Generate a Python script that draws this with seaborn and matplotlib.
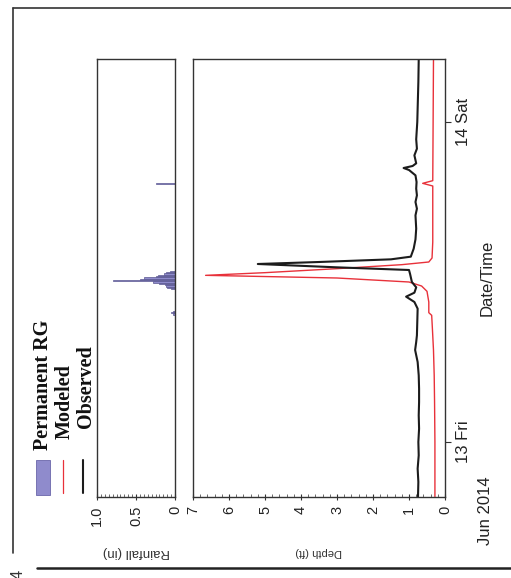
import numpy as np
import pandas as pd
import matplotlib
matplotlib.use("Agg")
import matplotlib.pyplot as plt
import seaborn as sns
from matplotlib.patches import Rectangle
from matplotlib.lines import Line2D

# ---------------- data (hours after 13 Jun 2014 00:00) ----------------
obs_hours = [-4.1, -3.0, -2.0, -1.0, 0.0, 1.0, 2.0, 3.0, 4.0, 5.0, 6.0, 6.9, 7.5, 8.0, 9.0,
             10.0, 10.5, 10.9, 11.2, 11.6, 12.0, 12.6, 12.9, 13.1, 13.35, 13.5, 13.7, 13.9,
             14.5, 15.2, 16.0, 17.0, 17.5, 18.0, 18.5, 19.0, 19.5, 20.0, 20.4, 20.55, 20.7,
             20.9, 21.5, 22.0, 22.7, 24.0, 25.0, 26.0, 27.0, 28.7]
obs_depth = [0.75, 0.74, 0.76, 0.73, 0.74, 0.72, 0.73, 0.72, 0.72, 0.73, 0.76, 0.83, 0.80, 0.78, 0.77,
             0.76, 0.85, 1.08, 0.85, 0.80, 0.92, 0.97, 1.00, 3.00, 5.20, 3.50, 1.50, 0.95,
             0.87, 0.82, 0.80, 0.82, 0.78, 0.82, 0.78, 0.80, 0.79, 0.82, 1.00, 1.15, 0.90,
             0.80, 0.85, 0.78, 0.80, 0.77, 0.76, 0.75, 0.74, 0.73]

mod_hours = [-4.1, 0.0, 3.0, 5.0, 6.9, 8.5, 9.5, 9.7, 10.5, 11.3, 11.7, 12.0, 12.3, 12.5,
             12.7, 13.0, 13.3, 13.5, 13.8, 15.0, 19.2, 19.4, 19.6, 24.0, 28.7]
mod_depth = [0.28, 0.28, 0.29, 0.30, 0.32, 0.35, 0.37, 0.45, 0.45, 0.50, 0.65, 1.00, 3.00, 6.65,
             5.00, 3.00, 1.20, 0.45, 0.36, 0.34, 0.34, 0.62, 0.34, 0.33, 0.32]

rain_hours = [9.6, 9.7, 9.8, 11.5, 11.6, 11.7, 11.8, 11.9, 12.0, 12.1, 12.2, 12.3, 12.4,
              12.5, 12.6, 12.7, 12.8, 19.4]
rain_in = [0.02, 0.05, 0.02, 0.05, 0.10, 0.12, 0.13, 0.20, 0.28, 0.80, 0.45, 0.40, 0.25,
           0.22, 0.14, 0.12, 0.06, 0.24]

time_ticks = [0, 24]
time_labels = ["13 Fri", "14 Sat"]
depth_ticks = [0, 1, 2, 3, 4, 5, 6, 7]
rain_ticks = [0, 0.5, 1.0]
rain_tick_labels = ["0", "0.5", "1.0"]
legend_labels = ["Permanent RG", "Modeled", "Observed"]

# ---------------- style ----------------
sns.set_style("white")
plt.rcParams["font.family"] = ["Liberation Sans", "DejaVu Sans"]

W, H = 511, 578
fig = plt.figure(figsize=(W / 100, H / 100), dpi=100)
fig.patch.set_facecolor("white")

def fx(x):
    return x / W

def fy(y):
    return 1 - y / H

top, bot = 59, 497
ax_r = fig.add_axes([fx(97), fy(bot), (175 - 97) / W, (bot - top) / H])
ax_d = fig.add_axes([fx(193), fy(bot), (445 - 193) / W, (bot - top) / H], sharey=ax_r)

RAIN_FACE = "#8f8bcc"
RAIN_EDGE = "#5a5690"
RED = "#e8313a"
BLACK = "#1c1c1c"

# rainfall (horizontal bars, via seaborn histplot with weights)
sns.histplot(y=rain_hours, weights=rain_in, binwidth=0.1,
             binrange=(min(rain_hours) - 0.05, max(rain_hours) + 0.05),
             ax=ax_r, color=RAIN_FACE, edgecolor=RAIN_EDGE, linewidth=0.5, alpha=1.0)

# depth lines
sns.lineplot(x=mod_depth, y=mod_hours, sort=False, estimator=None, ax=ax_d,
             color=RED, linewidth=1.0)
sns.lineplot(x=obs_depth, y=obs_hours, sort=False, estimator=None, ax=ax_d,
             color=BLACK, linewidth=1.5)

for ax in (ax_r, ax_d):
    for s in ax.spines.values():
        s.set_color("#333333")
        s.set_linewidth(1.0)
    ax.set_xlabel("")
    ax.set_ylabel("")
    ax.set_facecolor("white")

ax_d.set_xlim(7, 0)
ax_r.set_xlim(1.0, 0)
ax_d.set_ylim(-4.125, 28.725)

ax_d.set_xticks(depth_ticks)
ax_d.set_xticklabels([str(v) for v in depth_ticks], rotation=90, fontsize=10.5)
ax_d.set_xticks(np.arange(0, 7.01, 0.2), minor=True)
ax_d.tick_params(axis="x", which="major", bottom=True, direction="inout", length=5,
                 width=0.8, pad=4, colors="#333333")
ax_d.tick_params(axis="x", which="minor", bottom=True, direction="in", length=2,
                 width=0.6, colors="#555555")

ax_d.yaxis.tick_right()
ax_d.set_yticks(time_ticks)
ax_d.set_yticklabels(time_labels, rotation=90, va="center", fontsize=12)
ax_d.tick_params(axis="y", right=True, left=False, direction="out", length=4, width=0.8,
                 pad=4, colors="#333333")

ax_r.set_xticks(rain_ticks)
ax_r.set_xticklabels(rain_tick_labels, rotation=90, fontsize=10.5)
ax_r.set_xticks(np.arange(0, 1.01, 0.05), minor=True)
ax_r.tick_params(axis="x", which="major", bottom=True, direction="inout", length=5,
                 width=0.8, pad=4, colors="#333333")
ax_r.tick_params(axis="x", which="minor", bottom=True, direction="in", length=2,
                 width=0.6, colors="#555555")
ax_r.tick_params(axis="y", left=False, labelleft=False, right=False, labelright=False)
for lab in ax_d.get_xticklabels() + ax_r.get_xticklabels() + ax_d.get_yticklabels():
    lab.set_color("#222222")

# axis titles (rotated like the reference)
fig.text(fx(136), fy(552), "Rainfall (in)", rotation=180, ha="center", va="center",
         fontsize=9.5, color="#333333")
fig.text(fx(319), fy(552), "Depth (ft)", rotation=180, ha="center", va="center",
         fontsize=8, color="#333333")
fig.text(fx(487), fy(278), "Date/Time", rotation=90, ha="center", va="center",
         fontsize=12, color="#222222")
fig.text(fx(485), fy(545), "Jun 2014", rotation=90, ha="center", va="bottom",
         fontsize=12, color="#222222")

# legend (rotated)
serif = ["Liberation Serif", "DejaVu Serif"]
fig.add_artist(Rectangle((fx(36), fy(495)), 14 / W, 35 / H, transform=fig.transFigure,
                         facecolor=RAIN_FACE, edgecolor="#6a66aa", linewidth=0.6))
fig.add_artist(Line2D([fx(63), fx(63)], [fy(493), fy(460)], transform=fig.transFigure,
                      color=RED, linewidth=0.9))
fig.add_artist(Line2D([fx(83), fx(83)], [fy(493), fy(460)], transform=fig.transFigure,
                      color=BLACK, linewidth=1.5))
fig.text(fx(43), fy(450), legend_labels[0], rotation=90, ha="center", va="bottom",
         fontsize=14.5, fontweight="bold", family=serif, color="#111111")
fig.text(fx(65), fy(439), legend_labels[1], rotation=90, ha="center", va="bottom",
         fontsize=14.5, fontweight="bold", family=serif, color="#111111")
fig.text(fx(86), fy(428), legend_labels[2], rotation=90, ha="center", va="bottom",
         fontsize=14.5, fontweight="bold", family=serif, color="#111111")

# scanned page frame
fig.add_artist(Line2D([fx(13), 1], [fy(8), fy(8)], transform=fig.transFigure,
                      color="#333333", linewidth=1.2))
fig.add_artist(Line2D([fx(13), fx(13)], [fy(8), fy(553)], transform=fig.transFigure,
                      color="#333333", linewidth=1.2))
fig.add_artist(Line2D([fx(37), 1], [fy(568), fy(568)], transform=fig.transFigure,
                      color="#222222", linewidth=1.8))
fig.text(fx(18), fy(574), "4", rotation=90, ha="center", va="center", fontsize=12,
         color="#333333")

fig.savefig("out.png", dpi=100, facecolor="white")
